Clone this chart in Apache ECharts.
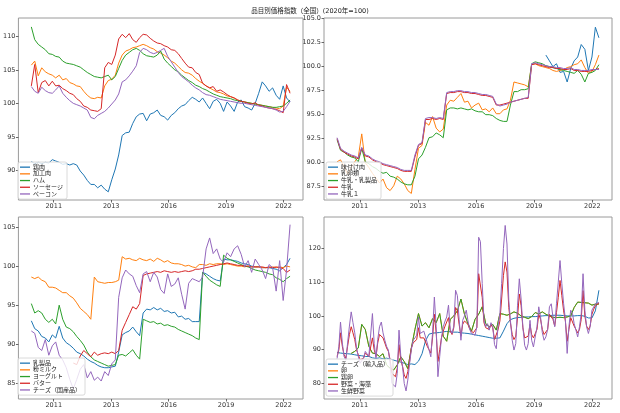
<!DOCTYPE html>
<html><head><meta charset="utf-8">
<script src="https://cdn.jsdelivr.net/npm/echarts@6/dist/echarts.min.js"></script>
<style>html,body{margin:0;padding:0;background:#fff}#c{width:620px;height:413px}</style>
</head><body><div id="c"></div>
<script>
// ---- x ticks (days since 1970-01-01) and tick labels ----
const xTickDays = [15000, 16000, 17000, 18000, 19000];
const yTicks1 = [90, 95, 100, 105, 110];
const yTicks2 = [87.5, 90.0, 92.5, 95.0, 97.5, 100.0, 102.5, 105.0];
const yTicks3 = [85, 90, 95, 100, 105];
const yTicks4 = [80, 90, 100, 110, 120];

// ---- Panel 1 (bimonthly from 2010-01) ----
const names1 = ['鶏肉', '加工肉', 'ハム', 'ソーセージ', 'ベーコン'];
const chicken = [91.3,91.0,91.2,91.0,91.2,91.1,91.6,91.4,91.2,90.9,
  91.0,90.8,91.0,90.8,89.9,89.3,88.5,87.9,87.9,87.4,
  87.8,87.2,86.8,88.6,90.2,92.3,95.2,95.6,95.7,97.0,
  98.0,98.4,98.5,97.4,98.4,98.6,99.0,98.2,98.0,97.5,
  98.2,98.6,99.2,99.6,99.8,100.4,100.9,100.6,100.2,100.8,
  100.0,99.2,100.3,100.6,100.0,98.8,100.2,99.6,98.8,100.2,
  100.5,99.5,99.3,99.0,100.0,101.5,103.2,102.6,101.8,102.3,
  101.2,100.6,102.6,100.8,100.2];
const processedMeat = [105.7,106.3,104.1,105.3,104.7,104.4,104.2,103.8,104.2,103.5,
  103.7,103.1,102.9,102.6,102.5,101.8,101.2,100.8,100.7,100.9,
  100.8,102.6,103.4,103.6,104.2,106.0,107.2,107.8,108.0,108.3,
  108.4,108.6,108.8,108.6,108.3,108.1,107.7,107.5,107.2,106.8,
  106.3,106.0,105.5,105.0,104.6,104.5,104.2,103.7,103.3,103.0,
  102.6,102.3,102.0,101.7,101.6,101.4,101.1,101.0,100.8,100.5,
  100.3,100.2,100.1,100.0,99.9,99.8,99.7,99.6,99.5,99.4,
  99.3,99.2,99.6,102.4,101.8];
const ham = [111.4,109.5,108.8,108.4,108.0,107.4,107.3,107.0,106.9,106.3,
  106.0,105.9,105.8,105.6,105.4,105.0,104.6,104.3,104.0,103.9,
  103.8,104.0,104.2,103.5,104.0,105.2,106.4,107.2,107.6,108.0,
  108.2,107.9,107.4,107.1,107.0,106.9,107.2,107.8,106.6,106.0,
  105.5,105.0,104.7,104.2,103.8,103.4,103.1,102.7,102.5,102.2,
  102.0,101.7,101.4,101.2,101.0,100.9,100.8,100.7,100.5,100.4,
  100.3,100.2,100.1,100.0,99.9,99.8,99.7,99.6,99.5,99.4,
  99.4,99.5,99.6,100.0,100.5];
const sausage = [102.6,105.8,101.6,103.1,103.4,102.6,103.3,102.6,102.7,102.2,
  101.9,101.5,101.3,100.7,100.3,99.6,99.4,99.0,98.9,98.8,
  99.2,105.3,106.1,105.8,107.2,109.6,110.3,109.8,110.4,109.5,
  109.1,109.8,110.3,110.2,109.7,109.3,109.0,108.9,108.6,108.4,
  108.0,107.9,107.4,106.7,106.0,105.4,105.3,104.6,104.3,103.0,
  102.6,102.3,102.5,101.8,102.0,101.7,101.3,101.0,100.8,100.5,
  100.3,100.2,100.0,99.9,100.1,99.7,99.6,99.4,99.3,99.2,
  99.1,98.9,98.6,102.8,101.5];
const bacon = [102.5,101.8,101.5,102.4,101.9,101.6,101.5,102.0,102.6,101.5,
  100.9,100.4,100.0,99.8,99.6,99.3,99.0,97.9,97.7,98.2,
  98.5,98.8,99.3,99.9,100.5,101.4,103.2,103.5,104.1,104.8,
  105.6,107.6,108.2,108.0,107.6,107.4,107.6,107.9,108.2,107.0,
  106.2,105.4,104.6,104.0,103.6,103.2,102.7,102.3,102.0,101.6,
  101.3,101.2,101.0,100.8,100.6,100.5,100.4,100.3,100.2,100.1,
  100.0,100.0,99.9,99.8,99.7,99.6,99.5,99.4,99.3,99.2,
  99.0,98.7,98.8,99.5,100.3];

// ---- Panel 2 ----
const names2 = ['味付け肉', '乳卵類', '牛乳・乳製品', '牛乳', '牛乳１'];
const seasonedMeat = [101.2,100.6,100.0,100.3,99.4,99.5,98.4,99.8,100.6,101.0,102.3,101.8,99.6,101.0,104.1,103.0]; // from 2019-11
const dairyEggs = [90.1,90.3,89.6,88.8,89.5,90.1,90.6,93.0,90.0,89.5,
  88.9,88.4,87.9,88.3,87.4,87.1,87.6,88.6,88.3,87.8,
  87.1,86.8,89.3,91.5,91.8,94.2,93.9,94.8,93.6,93.2,
  93.5,96.0,96.5,96.4,96.8,97.2,96.3,96.4,95.7,96.0,
  96.2,95.5,95.6,95.3,95.7,95.1,95.1,95.5,95.6,96.5,
  98.4,98.3,98.2,98.1,97.9,100.2,100.3,100.1,100.0,99.9,
  99.8,99.6,99.5,99.6,99.7,99.9,100.0,100.2,100.3,100.7,
  99.9,99.3,99.5,100.2,101.2];
const milkDairy = [92.4,91.3,91.1,90.8,90.6,90.5,90.1,91.5,90.1,89.9,
  89.6,89.4,89.1,88.9,89.0,88.6,88.5,88.3,88.0,87.8,
  87.7,87.7,88.6,90.4,90.8,91.6,92.6,92.7,93.1,92.9,
  92.6,95.5,95.7,95.7,95.6,95.7,95.6,95.5,95.6,95.4,
  95.3,95.3,95.0,95.0,94.9,94.6,94.4,94.3,94.3,96.0,
  97.4,97.4,97.6,97.6,97.7,100.3,100.5,100.4,100.3,100.1,
  100.0,99.9,99.8,99.7,99.6,99.5,99.4,99.3,99.6,99.2,
  98.4,99.3,99.4,99.6,100.2];
const milk = [92.5,91.4,91.1,90.9,90.7,90.6,90.4,91.5,90.7,90.6,
  90.3,90.1,90.0,89.8,89.7,89.6,89.5,89.4,89.2,89.1,
  89.1,89.1,90.6,91.8,92.0,94.5,94.5,94.6,94.5,94.6,
  94.5,97.2,97.3,97.3,97.4,97.4,97.3,97.3,97.2,97.2,
  97.1,97.0,97.0,96.9,96.8,96.0,96.0,96.1,96.2,96.3,
  96.4,96.5,96.6,96.7,96.7,100.2,100.3,100.2,100.1,100.0,
  99.9,99.9,99.8,99.8,99.7,99.7,99.8,99.6,99.6,99.5,
  99.5,99.5,99.6,99.7,99.8];
const milk1 = [92.6,91.5,91.2,91.0,90.8,90.7,90.5,91.6,90.8,90.7,
  90.4,90.2,90.1,89.9,89.8,89.7,89.6,89.5,89.3,89.2,
  89.2,89.2,90.8,91.9,92.1,94.6,94.7,94.7,94.6,94.7,
  94.6,97.3,97.4,97.4,97.5,97.5,97.4,97.4,97.3,97.3,
  97.2,97.1,97.1,97.0,96.9,96.1,95.9,96.0,96.1,96.3,
  96.4,96.5,96.6,96.7,96.8,100.3,100.4,100.3,100.2,100.1,
  100.0,100.0,99.9,99.9,99.8,99.8,99.9,99.7,99.7,99.6,
  99.6,99.6,99.7,99.7,99.7];

// ---- Panel 3 ----
const names3 = ['乳製品', '粉ミルク', 'ヨーグルト', 'バター', 'チーズ（国産品）'];
const dairyProducts = [93.0,92.0,91.7,91.0,90.8,90.3,91.2,90.8,92.3,90.8,
  90.2,89.9,89.5,89.0,88.8,88.5,88.1,87.8,87.6,87.3,
  87.1,87.0,87.0,87.1,87.2,89.0,91.2,91.5,91.7,92.2,
  91.6,91.1,94.0,94.5,94.4,94.7,94.4,94.6,94.2,94.3,
  94.0,94.1,93.5,93.6,93.2,93.3,92.9,92.9,92.9,99.2,
  99.0,98.7,98.4,98.2,98.1,100.9,100.8,100.8,100.7,100.6,
  100.4,100.3,100.2,100.0,99.9,99.9,99.8,99.8,99.8,99.7,
  99.6,99.4,99.8,100.2,101.0];
const powderedMilk = [98.6,98.4,98.6,98.2,98.0,97.3,97.3,97.2,96.9,96.6,
  96.6,96.2,95.9,95.3,94.6,94.2,93.8,93.2,98.6,98.0,
  97.9,97.8,97.9,97.9,98.0,98.2,101.2,100.9,101.0,100.8,
  100.7,101.0,100.8,100.7,100.9,100.6,101.0,100.8,100.5,100.7,
  100.4,100.3,100.3,100.2,100.0,100.1,99.9,99.8,100.2,100.2,
  100.1,100.3,100.2,100.3,100.3,100.2,100.3,100.2,100.1,100.0,
  100.0,99.9,100.0,99.9,99.9,99.9,99.8,99.8,99.8,99.9,
  99.8,99.9,99.8,100.0,99.9];
const yogurt = [95.2,94.0,94.3,94.0,93.2,92.8,93.2,92.6,95.0,93.2,
  92.2,92.0,91.6,91.0,90.5,89.9,89.0,88.4,88.0,87.8,
  87.6,87.4,87.2,87.3,87.4,88.6,88.7,88.5,88.9,89.3,
  88.6,88.1,93.2,93.0,92.8,92.9,92.6,92.7,92.4,92.5,
  92.3,92.2,91.9,91.7,91.5,91.3,91.1,90.8,90.6,99.2,
  98.7,98.2,97.9,97.6,97.4,101.4,101.0,100.8,100.6,100.4,
  100.2,100.0,99.9,99.7,99.5,99.4,99.3,99.2,99.0,98.9,
  98.5,98.3,98.0,98.4,98.7];
const butter = [87.6,87.4,88.5,89.2,88.8,88.4,89.0,88.6, // from 2012-01
  88.8,88.9,88.8,89.0,88.8,89.2,91.8,92.8,93.8,94.8,
  94.5,95.2,98.8,99.0,99.1,99.2,99.3,99.2,99.4,99.3,
  99.2,99.3,99.2,99.3,99.4,99.3,99.4,99.6,99.6,99.7,
  99.8,99.9,100.0,100.1,100.2,100.3,100.4,100.3,100.2,100.1,
  100.1,100.0,100.0,99.9,99.9,99.9,99.9,99.8,99.9,99.8,
  99.9,99.8,99.7,99.2,99.5];
const cheeseDomestic = [91.7,91.4,89.6,89.2,90.6,88.6,89.8,90.3,88.6,88.0,
  87.0,85.5,84.3,85.5,86.8,87.4,85.7,86.5,85.4,85.8,
  85.3,86.5,86.0,87.5,88.0,96.0,98.5,99.5,99.0,98.7,
  97.5,96.6,99.0,99.3,98.0,99.2,98.6,97.0,96.5,99.0,
  97.4,97.7,98.5,96.4,94.5,97.8,98.4,98.2,98.0,98.6,
  102.2,103.6,101.6,102.2,100.9,100.5,101.7,101.2,102.2,102.6,
  101.5,99.9,100.7,99.2,100.9,100.2,99.5,98.4,100.2,99.8,
  96.8,100.7,95.6,99.5,105.3];

// ---- Panel 4 ----
const names4 = ['チーズ（輸入品）', '卵', '鶏卵', '野菜・海藻', '生鮮野菜'];
const cheeseImported = [89.2,89.0,88.9,88.8,88.7,88.5,88.3,88.2,88.0,88.0,
  87.6,87.4,87.6,87.3,87.5,87.2,86.9,86.6,86.3,86.0,
  85.6,85.8,85.6,86.6,88.8,92.6,94.6,94.9,95.0,95.1,
  95.3,95.4,95.3,95.2,95.2,95.0,94.9,94.8,94.6,94.4,
  94.2,94.0,93.8,93.6,93.4,93.4,93.5,95.5,97.7,98.9,
  99.3,99.5,99.6,99.7,99.7,99.8,99.8,99.9,100.0,100.1,
  100.1,100.2,100.2,100.2,100.1,100.0,100.0,100.0,100.1,100.1,
  99.9,99.4,99.4,101.5,107.6];
const henEggs = [88.9,89.5,90.5,97.5,96.0,91.0, // from 2010-09
  89.0,88.8,88.0,88.8,85.5,84.5,84.0,85.5,87.9,86.5,
  84.4,90.5,96.0,100.7,97.0,98.0,96.5,99.2,98.0,100.7,
  94.0,92.5,99.0,100.0,101.5,105.0,100.5,97.7,95.5,99.0,
  100.5,102.7,97.7,96.8,97.5,95.8,100.7,100.5,100.2,100.6,
  101.2,100.8,100.0,99.6,99.2,99.8,101.0,100.6,101.2,100.5,
  100.0,99.6,99.5,99.6,99.5,99.7,100.0,102.5,104.1,104.0,
  103.9,103.8,103.2,103.5,103.5];
const eggs = henEggs;
const vegSeaweed = [88.0,90.0,95.0,91.0,88.5,87.5,91.0,94.5,96.8,95.0,
  93.0,90.0,88.5,87.0,87.0,87.5,89.0,89.5,88.0,88.0,
  93.5,90.0,88.0,92.0,94.5,95.0,93.5,92.0,90.5,89.5,
  87.0,83.0,82.5,82.0,84.5,91.5,87.0,85.0,82.5,81.5,
  83.5,86.5,90.5,92.0,92.5,93.0,96.5,93.5,93.0,93.5,
  93.5,91.0,90.0,89.0,93.5,100.5,95.0,86.5,90.0,93.5,
  95.5,97.0,97.5,99.5,95.5,94.5,96.5,102.5,101.5,97.5,
  94.0,97.5,98.5,99.0,97.5,96.0,95.5,95.0,94.5,96.5,
  112.5,112.0,105.5,98.0,96.5,97.0,96.0,97.5,96.5,93.0,
  92.5,96.0,98.5,105.0,112.0,116.0,113.0,102.5,98.0,94.5,
  93.0,94.0,99.5,106.5,103.0,96.5,93.5,93.0,94.0,97.5,
  94.5,93.5,93.0,96.0,100.5,99.0,96.0,94.5,95.0,96.0,
  100.5,101.0,99.0,97.0,101.0,105.5,110.5,106.0,101.5,98.5,
  92.5,96.0,99.5,99.0,97.0,96.0,95.0,96.0,99.0,107.5,
  100.0,97.0,96.0,97.0,100.5,102.0,103.0,103.5,103.8];
const freshVeg = [87.4,91.0,98.2,92.0,88.0,86.9,92.0,97.0,101.2,98.0,
  95.0,90.5,88.0,86.0,86.5,87.5,89.5,89.8,88.0,87.5,
  100.7,91.8,87.5,93.0,96.8,98.2,95.0,92.8,91.0,89.9,
  86.0,80.0,79.5,79.0,83.0,95.8,88.0,84.8,80.0,77.8,
  81.0,85.9,90.0,92.8,93.5,94.3,99.7,94.8,95.0,95.5,
  95.8,92.0,90.0,87.9,95.0,105.6,96.8,82.0,88.0,93.5,
  96.8,98.5,99.7,103.2,96.0,94.8,97.0,107.6,106.0,99.0,
  92.8,98.7,100.0,101.7,98.5,96.0,94.8,94.5,94.3,96.8,
  123.3,122.0,109.6,98.7,96.8,97.7,95.8,98.0,96.8,91.5,
  90.3,97.0,100.7,109.6,120.0,126.8,121.3,104.6,98.7,92.8,
  89.9,91.8,103.0,111.0,105.0,96.8,91.3,89.9,91.8,98.7,
  92.8,90.8,90.3,96.8,102.7,99.7,95.0,92.8,93.8,96.0,
  102.7,103.6,99.7,96.8,103.6,110.0,116.4,109.6,103.6,99.0,
  88.9,96.8,101.7,100.7,97.7,95.8,93.8,96.8,100.7,112.5,
  101.7,96.8,94.8,96.8,101.7,102.7,103.6,103.8,104.0];

// month index (0 = 2010-01) -> day number, for the time axis
function pairs(arr, startMonth, step) {
  return arr.map((v, j) => [Date.UTC(2010, startMonth + j * step, 1) / 86400000, v]);
}

const colors = ['#1f77b4', '#ff7f0e', '#2ca02c', '#d62728', '#9467bd'];
const FONT = 'DejaVu Sans, Noto Sans CJK JP, sans-serif';

const grids = [
  {left: 16, top: 18, width: 287, height: 182},
  {left: 324, top: 18, width: 288, height: 182},
  {left: 16, top: 217, width: 287, height: 182},
  {left: 324, top: 217, width: 288, height: 182}
];
const yRanges = [[85.58, 112.73], [86.12, 105.06], [83.0, 106.28], [75.4, 129.3]];
const yTickSets = [yTicks1, yTicks2, yTicks3, yTicks4];

const panelSeries = [
  [[names1[0], chicken, 0, 2], [names1[1], processedMeat, 0, 2], [names1[2], ham, 0, 2], [names1[3], sausage, 0, 2], [names1[4], bacon, 0, 2]],
  [[names2[0], seasonedMeat, 118, 2], [names2[1], dairyEggs, 0, 2], [names2[2], milkDairy, 0, 2], [names2[3], milk, 0, 2], [names2[4], milk1, 0, 2]],
  [[names3[0], dairyProducts, 0, 2], [names3[1], powderedMilk, 0, 2], [names3[2], yogurt, 0, 2], [names3[3], butter, 24, 2], [names3[4], cheeseDomestic, 0, 2]],
  [[names4[0], cheeseImported, 0, 2], [names4[1], eggs, 8, 2], [names4[2], henEggs, 8, 2], [names4[3], vegSeaweed, 0, 1], [names4[4], freshVeg, 0, 1]]
];
const legendPos = [
  {left: 18, top: 162}, {left: 326, top: 162}, {left: 18, top: 358}, {left: 326, top: 359}
];

const series = [];
panelSeries.forEach((ps, g) => {
  ps.forEach((s, idx) => {
    series.push({
      name: s[0], type: 'line', xAxisIndex: g, yAxisIndex: g,
      data: pairs(s[1], s[2], s[3]),
      showSymbol: false, symbol: 'none',
      lineStyle: {width: 1, color: colors[idx]}, itemStyle: {color: colors[idx]},
      animation: false, z: 2 + idx
    });
  });
});

const option = {
  animation: false,
  textStyle: {fontFamily: FONT},
  title: {text: '品目別価格指数（全国）(2020年=100)', left: 'center', top: 3,
    textStyle: {fontSize: 6.5, fontWeight: 'normal', color: '#222', fontFamily: FONT}},
  grid: grids.map(g => Object.assign({show: true, borderColor: '#9a9a9a', borderWidth: 1, backgroundColor: '#fff'}, g)),
  xAxis: grids.map((g, i) => ({
    type: 'value', gridIndex: i, min: 14385, max: 19338,
    splitLine: {show: false}, axisLine: {show: false},
    axisTick: {show: true, customValues: xTickDays, length: 2.5, lineStyle: {color: '#444', width: 0.8}},
    axisLabel: {customValues: xTickDays, fontSize: 6.5, color: '#333', margin: 3, fontFamily: FONT,
      formatter: v => String(new Date(v * 86400000).getUTCFullYear())}
  })),
  yAxis: grids.map((g, i) => ({
    type: 'value', gridIndex: i, min: yRanges[i][0], max: yRanges[i][1],
    splitLine: {show: false}, axisLine: {show: false},
    axisTick: {show: true, customValues: yTickSets[i], length: 2.5, lineStyle: {color: '#444', width: 0.8}},
    axisLabel: {customValues: yTickSets[i], fontSize: 6.5, color: '#333', margin: 3, fontFamily: FONT,
      formatter: v => i === 1 ? v.toFixed(1) : String(Math.round(v))}
  })),
  legend: panelSeries.map((ps, g) => Object.assign({
    orient: 'vertical', data: ps.map(s => s[0]),
    icon: 'rect', itemWidth: 10, itemHeight: 1.3, itemGap: 0.4,
    padding: [2, 4, 2, 2], backgroundColor: 'rgba(255,255,255,0.8)',
    borderColor: '#d0d0d0', borderWidth: 0.8, borderRadius: 2,
    textStyle: {fontSize: 6, lineHeight: 6.3, color: '#222', fontFamily: FONT, padding: [0, 0, 0, -2]},
    selectedMode: false, z: 20
  }, legendPos[g])),
  series: series
};

const chart = echarts.init(document.getElementById('c'), null, {renderer: 'canvas'});
chart.setOption(option);
</script>
</body></html>
